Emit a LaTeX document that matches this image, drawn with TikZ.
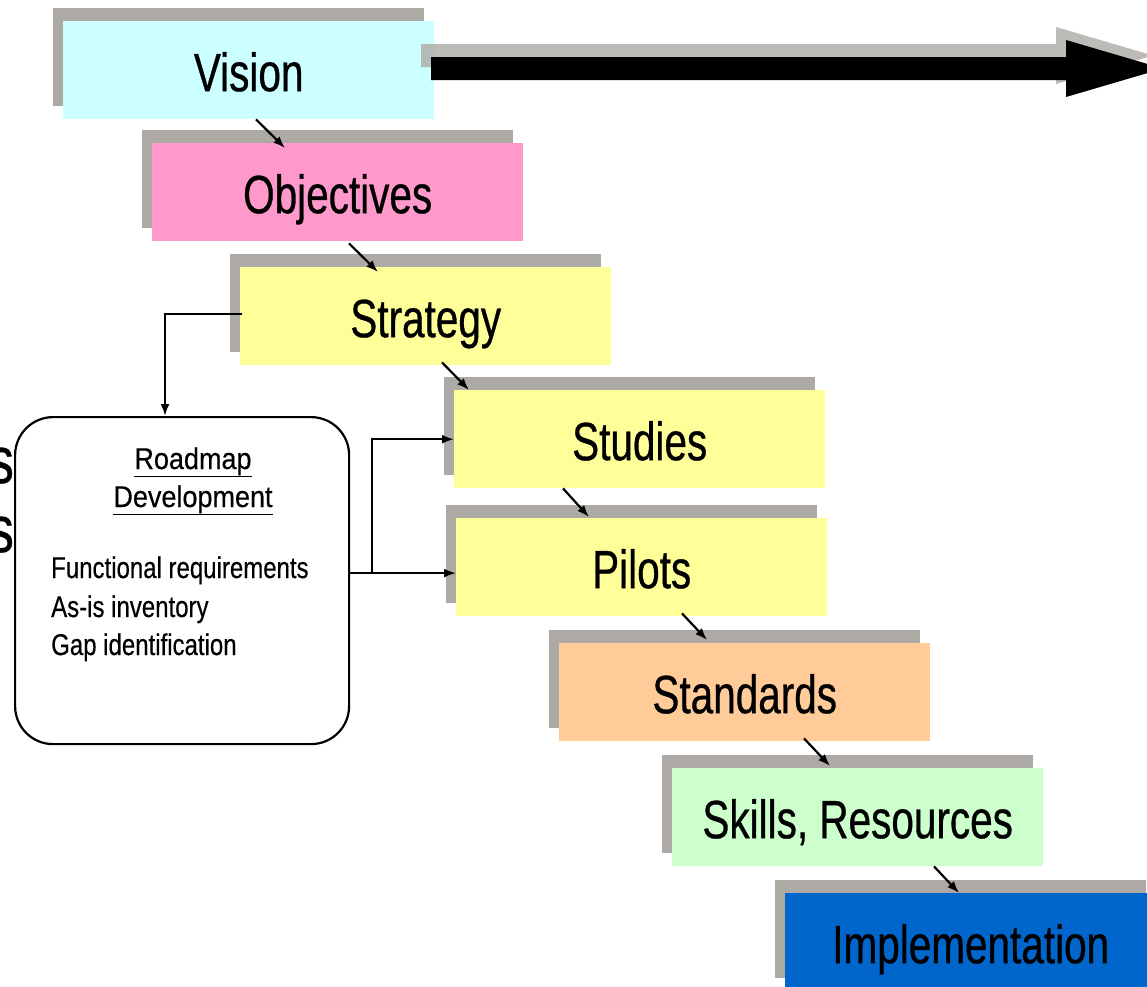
\documentclass[tikz,border=0pt]{standalone}
\usepackage{fontspec}
\setmainfont{Liberation Sans}
\newfontfamily\bigf{Liberation Sans}[FakeStretch=0.75,FakeBold=0.6]
\newfontfamily\titf{Liberation Sans}[FakeStretch=0.9,FakeBold=0.4]
\newfontfamily\lstf{Liberation Sans}[FakeStretch=0.8,FakeBold=0.4]
\usetikzlibrary{shadows,arrows.meta,calc}
\definecolor{shgrey}{RGB}{173,170,165}
\definecolor{cvision}{RGB}{204,255,255}
\definecolor{cobj}{RGB}{255,153,204}
\definecolor{cyel}{RGB}{255,255,153}
\definecolor{cstd}{RGB}{255,204,153}
\definecolor{cskill}{RGB}{204,255,204}
\definecolor{cimpl}{RGB}{0,102,204}
\begin{document}
\begin{tikzpicture}[x=1pt,y=-1pt,
  stagebox/.style={minimum width=371pt, minimum height=98pt, inner sep=0pt,
    text height=46pt, text depth=4pt,
    anchor=north west, font=\bigf\fontsize{54}{60}\selectfont,
    general shadow={fill=shgrey, shadow xshift=-10.5pt, shadow yshift=13.5pt}},
  conn/.style={line width=2.2pt, -{Latex[length=12pt,width=9pt]}},
  titletext/.style={font=\titf\fontsize{30}{36}\selectfont, inner sep=0pt, anchor=base},
  listtext/.style={font=\lstf\fontsize{30}{36}\selectfont, inner sep=0pt, anchor=base west}]
\useasboundingbox (0,0) rectangle (1147,986);
\clip (0,0) rectangle (1147,986);
\fill[white] (0,0) rectangle (1147,986);

% cut-off letters at the left edge
\node[font=\bigf\fontsize{66}{70}\selectfont, anchor=base east, inner sep=0pt] (s1) at (14,483) {s};
\node[font=\bigf\fontsize{66}{70}\selectfont, anchor=base east, inner sep=0pt] (s2) at (14,552) {s};

% stages
\node[stagebox, fill=cvision] (vis) at (63,21) {Vision};
\node[stagebox, fill=cobj] (obj) at (152,143) {Objectives};
\node[stagebox, fill=cyel] (str) at (240,267) {Strategy};
\node[stagebox, fill=cyel] (stu) at (454,390) {Studies};
\node[stagebox, fill=cyel] (pil) at (456,518) {Pilots};
\node[stagebox, fill=cstd] (sta) at (559,643) {Standards};
\node[stagebox, fill=cskill] (ski) at (672,768) {Skills, Resources};
\node[stagebox, fill=cimpl] (imp) at (785,893) {Implementation};

% roadmap box
\node[draw=black, line width=2.2pt, fill=white, rounded corners=38pt,
  minimum width=334pt, minimum height=327pt, inner sep=0pt, anchor=north west] (rm) at (14,416) {};
\node[titletext] (t1) at (193,469) {\underline{Roadmap}};
\node[titletext] (t2) at (193,507) {\underline{Development}};
\node[listtext] (l1) at (51,578) {Functional requirements};
\node[listtext] (l2) at (51,617) {As-is inventory};
\node[listtext] (l3) at (51,655) {Gap identification};

% big time arrow
\fill[shgrey, opacity=0.8] (421,44) -- (1056,44) -- (1056,27) -- (1153,55.5) -- (1056,84) -- (1056,67) -- (421,67) -- cycle;
\fill[black] (431,57) -- (1066,57) -- (1066,40) -- (1163,68.5) -- (1066,97) -- (1066,80) -- (431,80) -- cycle;

% stage to stage connectors
\draw[conn] ($(vis.south west)+(193,0)$) -- ($(obj.north west)+(133,5)$);
\draw[conn] ($(obj.south west)+(197,2)$) -- ($(str.north west)+(138,5)$);
\draw[conn] ($(str.south west)+(202,-3)$) -- ($(stu.north west)+(15,0)$);
\draw[conn] ($(stu.south west)+(109,0)$) -- ($(pil.north west)+(133,-1)$);
\draw[conn] ($(pil.south west)+(226,-3)$) -- ($(sta.north west)+(148,-3)$);
\draw[conn] ($(sta.south west)+(245,-3)$) -- ($(ski.north west)+(158,-2)$);
\draw[conn] ($(ski.south west)+(262,0)$) -- ($(imp.north west)+(174,0)$);

% roadmap connectors
\draw[conn] ($(str.west)+(2,-2)$) -| ($(rm.north west)+(151,0)$);
\coordinate (br) at ($(rm.east)+(0,-7.5)$);
\draw[conn] (br) -- (br -| pil.west);
\draw[conn] ($(br)+(22,0)$) |- (stu.west);
\end{tikzpicture}
\end{document}
